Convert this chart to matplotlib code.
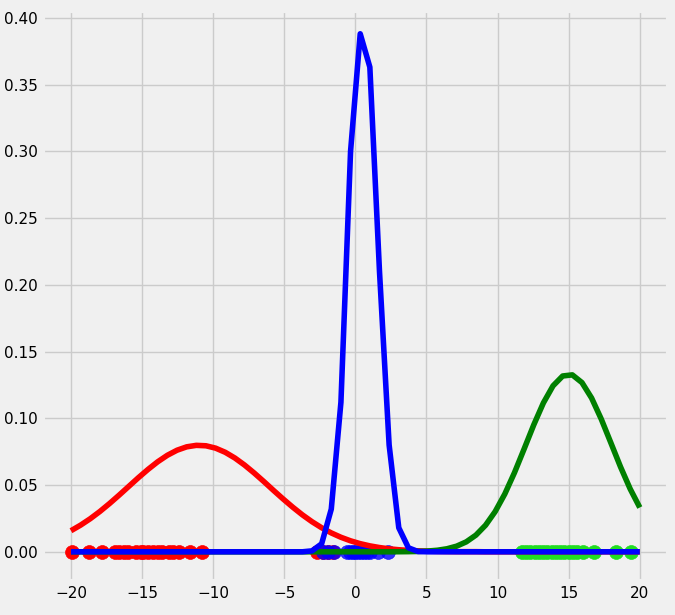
import numpy as np
import matplotlib
matplotlib.use("Agg")
import matplotlib.pyplot as plt

plt.style.use("fivethirtyeight")

x = np.linspace(-20, 20, 60)
red_pdf = [0.01579,0.01998,0.02478,0.03020,0.03615,0.04248,0.04902,0.05555,0.06176,0.06745,
           0.07230,0.07608,0.07861,0.07973,0.07941,0.07764,0.07453,0.07025,0.06500,0.05904,
           0.05265,0.04604,0.03960,0.03344,0.02770,0.02254,0.01801,0.01413,0.01088,0.00822,
           0.00610,0.00444,0.00318,0.00223,0.00154,0.00104,0.00069,0.00045,0.00029,0.00018,
           0.0001,0.0001,0.0001] + [0.0]*17
green_pdf = [0.0]*34 + [0.00005,0.00011,0.00026,0.000565,0.00116,0.00227,0.00422,0.00745,
             0.01249,0.01991,0.03015,0.04334,0.05928,0.07702,0.09508,0.11153,0.12432,0.13168,
             0.13252,0.12674,0.11517,0.09944,0.08158,0.06360,0.04711,0.03317]
blue_pdf = [0.0]*25 + [0.0007,0.006,0.032,0.112,0.30,0.388,0.363,0.21,0.08,0.018,0.003,0.0002] + [0.0]*23

red_pts = [-19.95,-18.7,-17.8,-16.9,-16.6,-16.3,-16.0,-15.4,-15.1,-14.9,-14.6,-14.2,-13.9,-13.6,
           -13.1,-12.8,-12.4,-11.6,-10.8,-2.7,-2.3,-1.9,-1.6]
green_pts = [11.7,12.0,12.3,12.6,12.9,13.2,13.5,13.8,14.1,14.4,14.7,15.0,15.3,15.6,16.0,16.8,18.3,19.4]
blue_pts = [-2.3,-1.9,-1.5,-0.6,-0.4,-0.2,0.0,0.2,0.4,0.6,0.8,1.0,1.6,2.3]

fig, ax = plt.subplots(figsize=(6.75, 6.15), dpi=100)
fig.patch.set_facecolor("#f0f0f0")
ax.scatter(red_pts, [0]*len(red_pts), color="red", s=100, zorder=3)
ax.scatter(green_pts, [0]*len(green_pts), color="#22dd22", s=100, zorder=3)
ax.scatter(blue_pts, [0]*len(blue_pts), color="blue", s=100, zorder=3, alpha=0.8)
ax.plot(x, red_pdf, color="red", zorder=4)
ax.plot(x, green_pdf, color="green", zorder=4)
ax.plot(x, blue_pdf, color="blue", zorder=5)
ax.set_xticks([-20,-15,-10,-5,0,5,10,15,20])
ax.set_yticks(np.arange(0, 0.41, 0.05))
ax.tick_params(labelsize=11)
ax.set_ylim(-0.022, 0.405)
ax.set_xlim(-22, 22)
plt.subplots_adjust(left=0.063, right=0.99, top=0.982, bottom=0.055)
fig.savefig("out.png", facecolor=fig.get_facecolor())
